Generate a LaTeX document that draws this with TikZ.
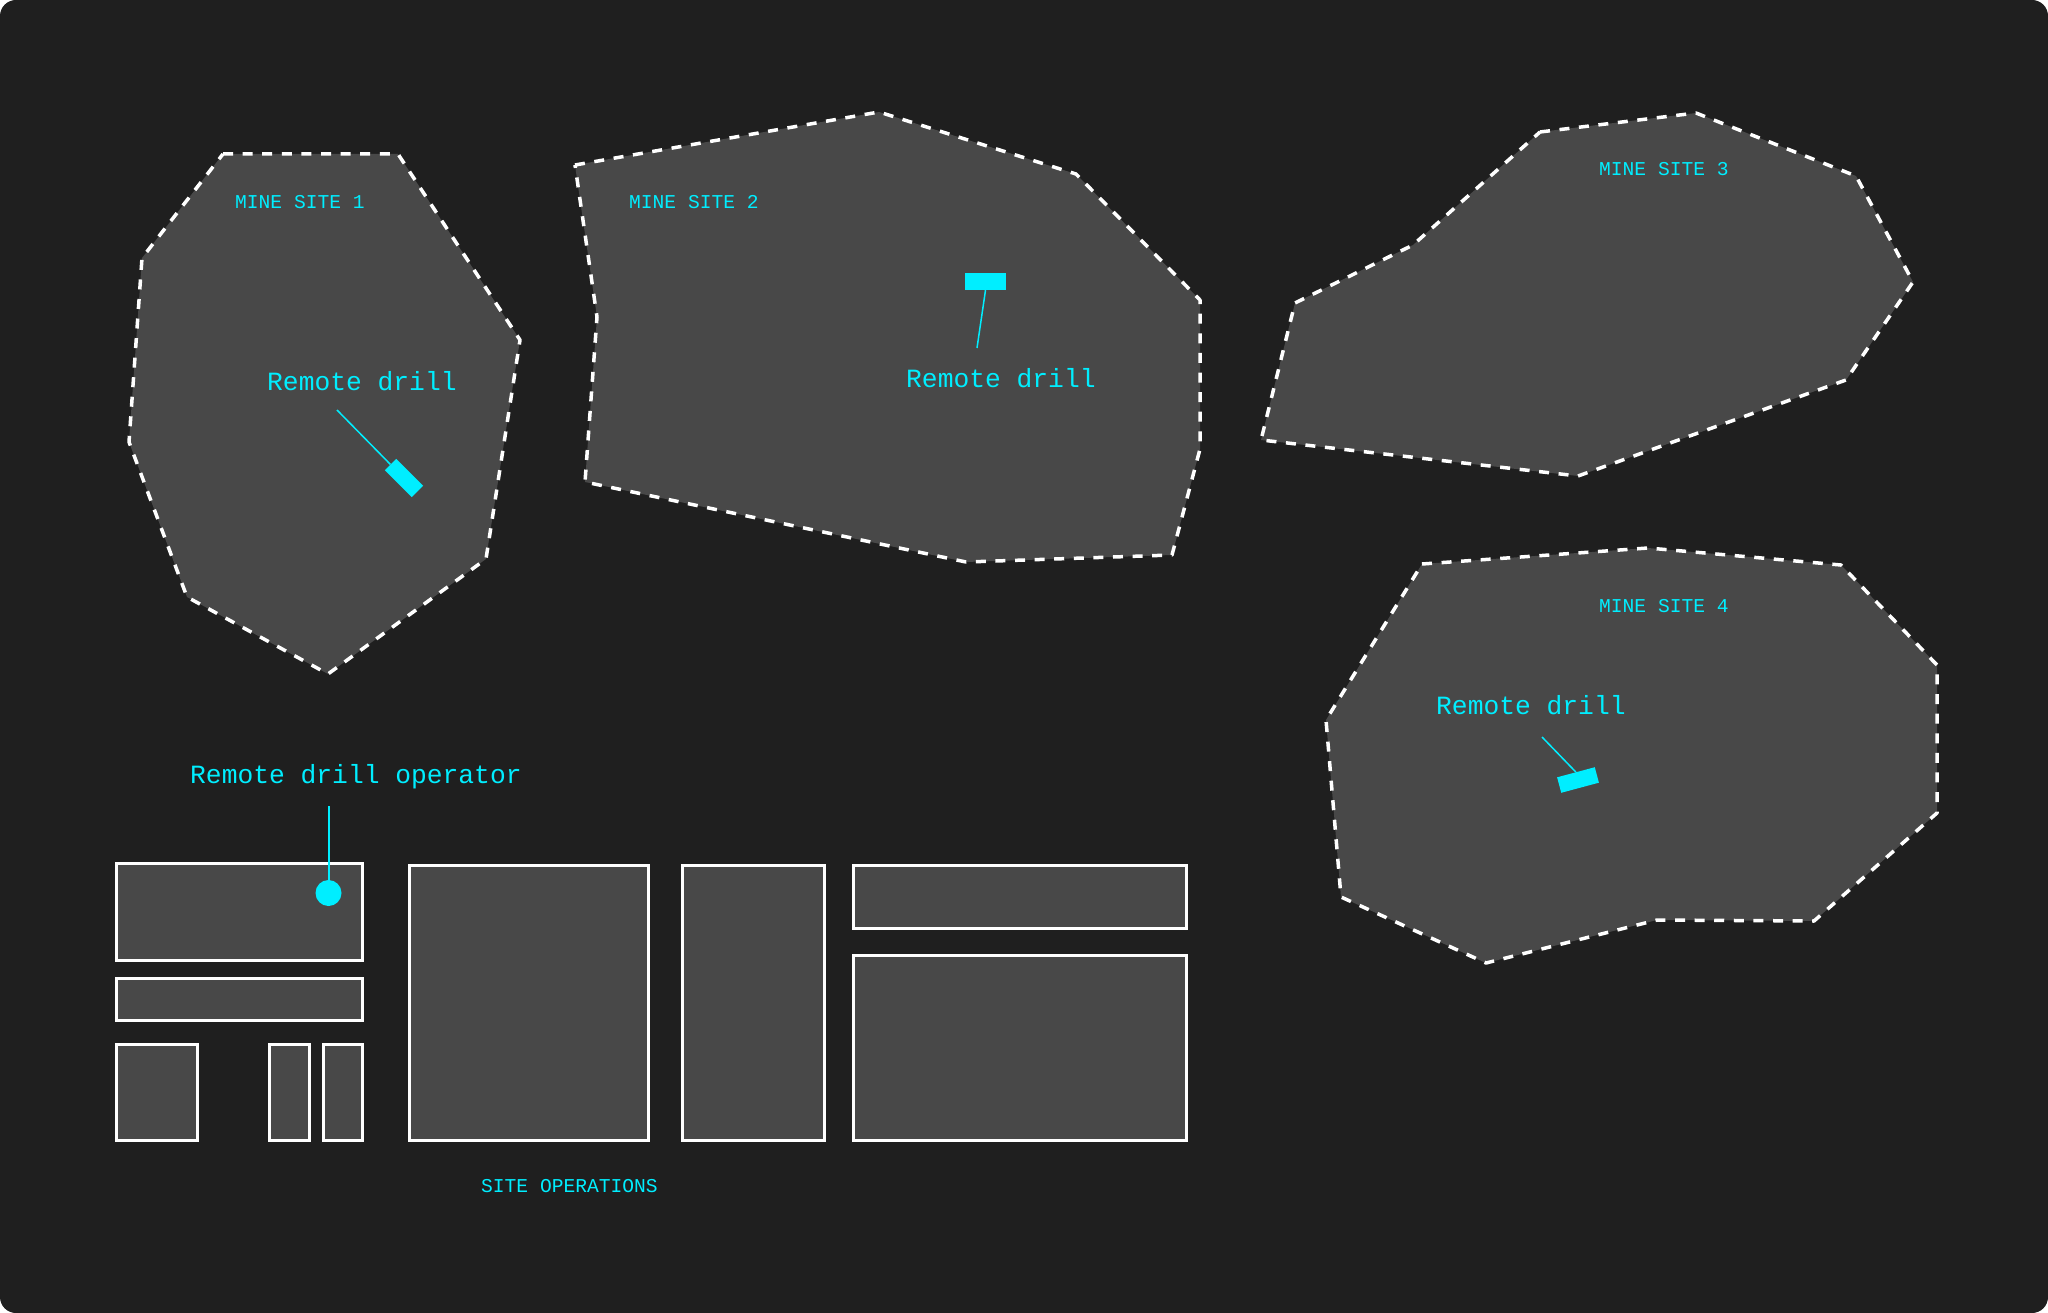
\documentclass[tikz,border=0pt]{standalone}
\usepackage{fontspec}
\setmonofont{Liberation Mono}
\definecolor{bgc}{RGB}{31,31,31}
\definecolor{sitegray}{RGB}{72,72,72}
\definecolor{cyanc}{RGB}{0,238,255}
\begin{document}
\begin{tikzpicture}[x=1pt,y=-1pt,
  site/.style={fill=sitegray, draw=white, line width=3.5pt, dash pattern=on 10pt off 9.6pt, line join=round},
  opbox/.style={fill=sitegray, draw=white, line width=3pt},
  lbl/.style={text=cyanc, font=\ttfamily\fontsize{19.6}{24}\selectfont, inner sep=0pt, anchor=base west},
  big/.style={text=cyanc, font=\ttfamily\fontsize{26.3}{31}\selectfont, inner sep=0pt, anchor=base west},
  drillbox/.style={fill=cyanc, inner sep=0pt, draw=none},
  leader/.style={draw=cyanc, line width=1.5pt},
]
\useasboundingbox (0,0) rectangle (2048,1313);
\fill[white] (0,0) rectangle (2048,1313);
\fill[bgc, rounded corners=16pt] (0,0) rectangle (2048,1313);

% mine sites
\draw[site] (223,154) -- (398,154) -- (520,340) -- (486,559) -- (328,674) -- (187,597) -- (129,442) -- (142,258) -- cycle;
\draw[site] (575,165) -- (879,112) -- (1076,174) -- (1200,300) -- (1200,449) -- (1172,555) -- (966,562) -- (585,482) -- (597,317) -- cycle;
\draw[site] (1540,132) -- (1696,113) -- (1856,176) -- (1913,282) -- (1846,380) -- (1578,476) -- (1261,440) -- (1295,303) -- (1413,245) -- cycle;
\draw[site] (1422,564) -- (1648,548) -- (1841,565) -- (1937,665) -- (1937,813) -- (1814,921) -- (1657,920) -- (1486,963) -- (1341,897) -- (1326,720) -- cycle;

% site operations
\draw[opbox] (116,863) rectangle (362,960);
\draw[opbox] (116,978) rectangle (362,1020);
\draw[opbox] (116,1044) rectangle (197,1140);
\draw[opbox] (269,1044) rectangle (309,1140);
\draw[opbox] (323,1044) rectangle (362,1140);
\draw[opbox] (409,865) rectangle (648,1140);
\draw[opbox] (682,865) rectangle (824,1140);
\draw[opbox] (853,865) rectangle (1186,928);
\draw[opbox] (853,955) rectangle (1186,1140);

% labels
\node[lbl] (m1) at (235,209) {MINE SITE 1};
\node[lbl] (m2) at (629,209) {MINE SITE 2};
\node[lbl] (m3) at (1599,176) {MINE SITE 3};
\node[lbl] (m4) at (1599,612) {MINE SITE 4};
\node[lbl] (so) at (481,1192) {SITE OPERATIONS};

\node[big] (t1) at (267,391) {Remote drill};
\node[big] (t2) at (906,388) {Remote drill};
\node[big] (t4) at (1436,714) {Remote drill};
\node[big] (t0) at (190,783) {Remote drill operator};

% drills
\node[drillbox, minimum width=38pt, minimum height=16pt, rotate=-45] (d1) at (404,478) {};
\node[drillbox, minimum width=41pt, minimum height=17pt] (d2) at (985.5,281.5) {};
\node[drillbox, minimum width=39pt, minimum height=16pt, rotate=15] (d4) at (1578,780) {};

\coordinate (s1) at (337,410);
\coordinate (s2) at (977,348);
\coordinate (s4) at (1542,737);
\coordinate (s0) at (328.5,806);

\draw[leader] (s1) -- (d1.west);
\draw[leader] (s2) -- (d2.south);
\draw[leader] (s4) -- (d4.north);

\node[circle, fill=cyanc, minimum size=26pt, inner sep=0pt] (op) at (328.5,893) {};
\draw[cyanc, line width=2pt] (s0) -- (op.center);
\end{tikzpicture}
\end{document}
